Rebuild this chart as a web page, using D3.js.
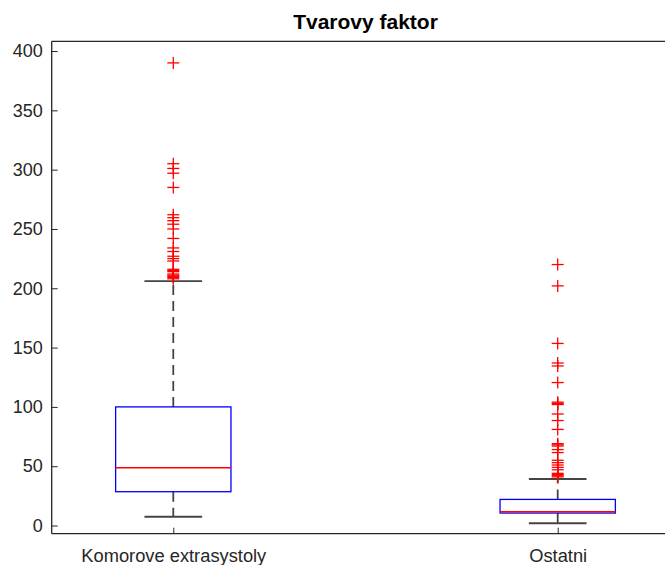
<!DOCTYPE html>
<html>
<head>
<meta charset="utf-8">
<script src="https://cdn.jsdelivr.net/npm/d3@7"></script>
<style>
  html, body { margin: 0; padding: 0; background: #fff; }
  svg { display: block; }
  text { font-family: "Liberation Sans", Arial, Helvetica, sans-serif; }
</style>
</head>
<body>
<svg id="chart" width="665" height="565"></svg>
<script>
// ---- data ----
const categories = ["Komorove extrasystoly", "Ostatni"];
const q1Values = [28.5, 10.5];
const medianValues = [48.7, 11.6];
const q3Values = [100, 22];
const whiskerLow = [7.4, 1.9];
const whiskerHigh = [206, 39.2];
const outliersKomorove = [390, 305, 301, 297, 285, 262, 259.5, 257, 254, 250, 242, 234, 231, 227, 225, 223, 216, 215, 214, 212, 211, 210, 209, 208];
const outliersOstatni = [220, 202, 153.5, 137, 134.5, 120.5, 104, 103, 102, 94, 88.5, 81, 69, 68, 67, 64, 61.5, 55, 53, 51, 49, 47, 44, 43, 42, 41];
const yTicks = [0, 50, 100, 150, 200, 250, 300, 350, 400];
const titleText = "Tvarovy faktor";

(function () {
// ---- layout ----
const svg = d3.select("#chart");
const pLeft = 51.7, pRight = 679.3, pTop = 41.3, pBottom = 533.7;
const axisColor = "#262626";

const x = d3.scaleLinear().domain([0.6837, 2.3163]).range([pLeft, pRight]);
const y = d3.scaleLinear().domain([-6.9, 408.2]).range([pBottom, pTop]);

const boxHalf = 0.15, capHalf = 0.075;

const g = svg.append("g");

// Y axis
const yAxis = d3.axisLeft(y).tickValues(yTicks).tickSize(-6).tickPadding(9).tickFormat(d3.format("d"));
const ya = g.append("g").attr("transform", `translate(${pLeft},0)`).call(yAxis);
ya.select(".domain").remove();
ya.selectAll(".tick line").attr("stroke", axisColor);
ya.selectAll(".tick text").attr("fill", axisColor).style("font-size", "18px")
  .style("font-family", '"Liberation Sans", Arial, sans-serif');

// X axis
const xAxis = d3.axisBottom(x).tickValues([1, 2]).tickSize(-6).tickPadding(15)
  .tickFormat((d, i) => categories[i]);
const xa = g.append("g").attr("transform", `translate(0,${pBottom})`).call(xAxis);
xa.select(".domain").remove();
xa.selectAll(".tick line").attr("stroke", axisColor);
xa.selectAll(".tick text").attr("fill", axisColor).style("font-size", "18.3px")
  .style("font-family", '"Liberation Sans", Arial, sans-serif');

// frame lines
g.append("line").attr("x1", pLeft).attr("x2", pRight).attr("y1", pBottom).attr("y2", pBottom)
  .attr("stroke", axisColor).attr("stroke-width", 1.3);
g.append("line").attr("x1", pLeft).attr("x2", pLeft).attr("y1", pTop).attr("y2", pBottom)
  .attr("stroke", axisColor).attr("stroke-width", 1.3);
g.append("line").attr("x1", pLeft).attr("x2", pRight).attr("y1", pTop).attr("y2", pTop)
  .attr("stroke", axisColor).attr("stroke-width", 1.3);

// boxes
const outlierSets = [outliersKomorove, outliersOstatni];
categories.forEach((c, i) => {
  const cx = x(i + 1);
  const bg = svg.append("g");
  bg.append("line").attr("x1", cx).attr("x2", cx).attr("y1", y(q3Values[i])).attr("y2", y(whiskerHigh[i]))
    .attr("stroke", "#444").attr("stroke-width", 1.8).attr("stroke-dasharray", "10,6");
  bg.append("line").attr("x1", cx).attr("x2", cx).attr("y1", y(q1Values[i])).attr("y2", y(whiskerLow[i]))
    .attr("stroke", "#444").attr("stroke-width", 1.8).attr("stroke-dasharray", "10,6");
  [whiskerLow[i], whiskerHigh[i]].forEach(v => {
    bg.append("line").attr("x1", x(i + 1 - capHalf)).attr("x2", x(i + 1 + capHalf))
      .attr("y1", y(v)).attr("y2", y(v)).attr("stroke", "#444").attr("stroke-width", 1.8);
  });
  bg.append("rect").attr("x", x(i + 1 - boxHalf)).attr("y", y(q3Values[i]))
    .attr("width", x(i + 1 + boxHalf) - x(i + 1 - boxHalf))
    .attr("height", y(q1Values[i]) - y(q3Values[i]))
    .attr("fill", "none").attr("stroke", "#0000ff").attr("stroke-width", 1.3);
  bg.append("line").attr("x1", x(i + 1 - boxHalf)).attr("x2", x(i + 1 + boxHalf))
    .attr("y1", y(medianValues[i])).attr("y2", y(medianValues[i]))
    .attr("stroke", "#ff0000").attr("stroke-width", 1.3);
  const s = 6;
  const og = bg.append("g").attr("stroke", "#ff0000").attr("stroke-width", 1.3);
  outlierSets[i].forEach(v => {
    og.append("line").attr("x1", cx - s).attr("x2", cx + s).attr("y1", y(v)).attr("y2", y(v));
    og.append("line").attr("x1", cx).attr("x2", cx).attr("y1", y(v) - s).attr("y2", y(v) + s);
  });
});

// title
svg.append("text").attr("x", (pLeft + pRight) / 2).attr("y", 29).attr("text-anchor", "middle")
  .attr("fill", "#000").style("font-size", "21px").style("font-weight", "bold").text(titleText);
})();
</script>
</body>
</html>
